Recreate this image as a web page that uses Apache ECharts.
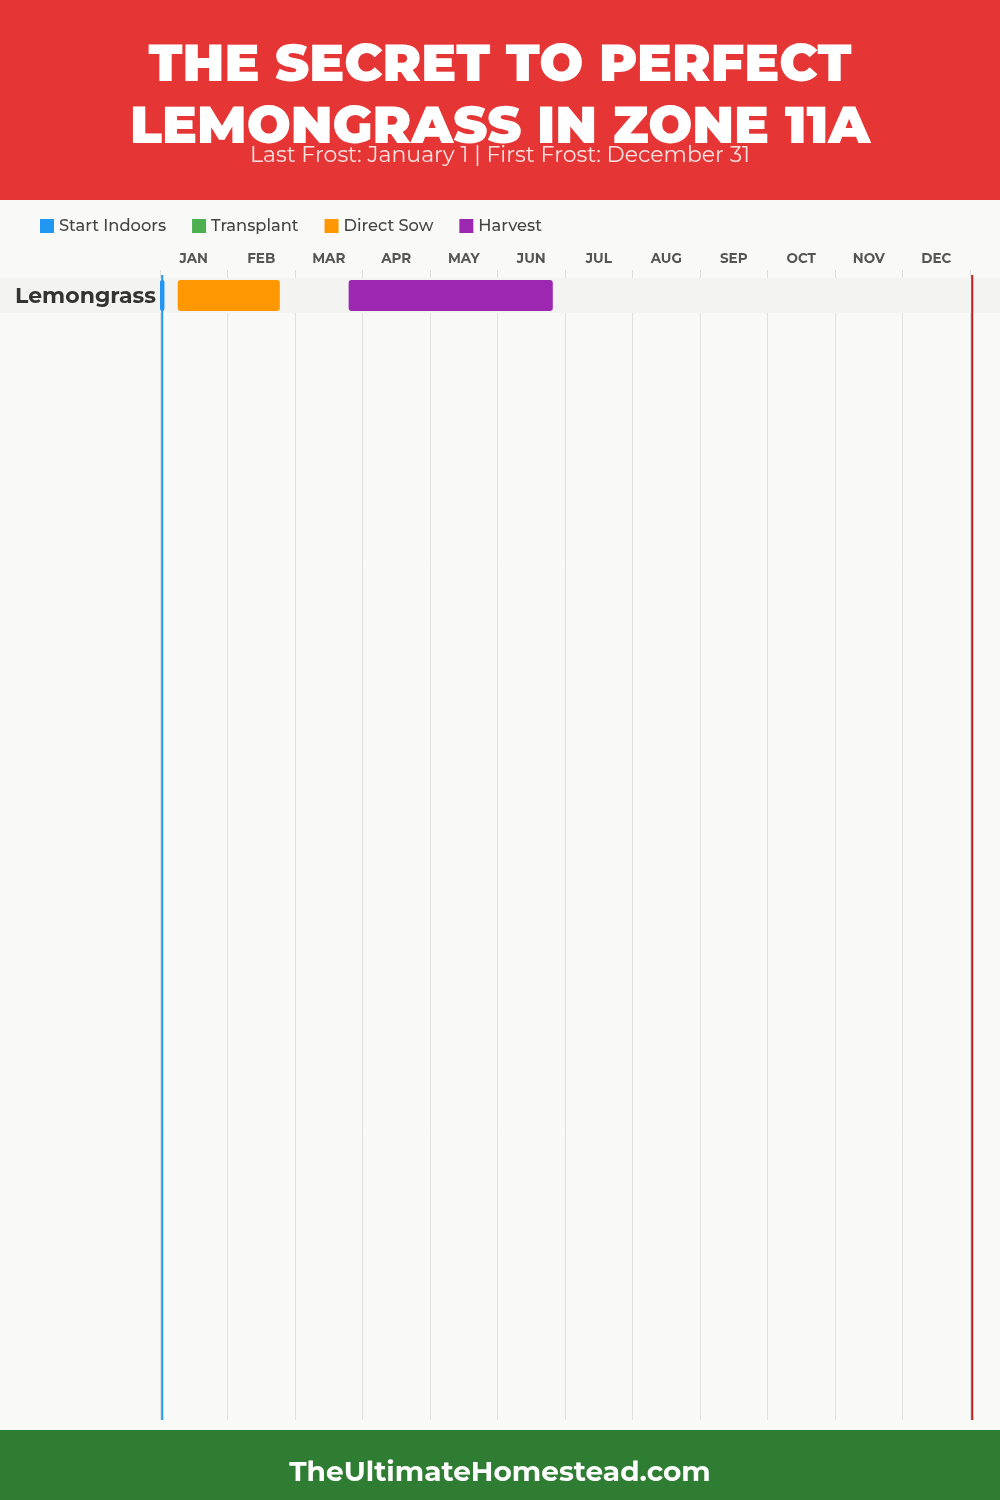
<!DOCTYPE html>
<html>
<head>
<meta charset="utf-8">
<script src="https://cdn.jsdelivr.net/npm/echarts@6/dist/echarts.min.js"></script>
<style>
html,body{margin:0;padding:0;background:#f9f9f7;}
#chart{width:1000px;height:1500px;}
</style>
</head>
<body>
<div id="chart"></div>
<script>
// ---- data ----
const months = ['JAN','FEB','MAR','APR','MAY','JUN','JUL','AUG','SEP','OCT','NOV','DEC'];
const crops = ['Lemongrass'];
// [cropIndex, startDay, endDay] (day of year)
const startIndoors = [[0, 0, 2]];
const transplant = [];
const directSow = [[0, 8, 54]];
const harvest = [[0, 85, 177]];
const lastFrostDay = 1;    // January 1
const firstFrostDay = 366; // December 31
const titleLines = ['THE SECRET TO PERFECT', 'LEMONGRASS IN ZONE 11A'];
const subtitle = 'Last Frost: January 1 | First Frost: December 31';
const footer = 'TheUltimateHomestead.com';

const colors = {
  'Start Indoors': '#2196f3',
  'Transplant': '#4caf50',
  'Direct Sow': '#ff9800',
  'Harvest': '#9c27b0'
};
const FONT = 'Montserrat, Inter, "Noto Sans", sans-serif';

const chart = echarts.init(document.getElementById('chart'), null, {renderer: 'canvas'});

function barRender(color) {
  return function (params, api) {
    const row = api.value(0);
    const s = api.coord([api.value(1), row + 0.06]);
    const e = api.coord([api.value(2), row + 0.94]);
    const w = e[0] - s[0];
    return {
      type: 'rect',
      shape: {x: s[0], y: s[1], width: w, height: e[1] - s[1], r: Math.min(3, w / 2)},
      style: {fill: color}
    };
  };
}

function barSeries(name, data) {
  return {
    name: name,
    type: 'custom',
    xAxisIndex: 1,
    yAxisIndex: 0,
    itemStyle: {color: colors[name]},
    renderItem: barRender(colors[name]),
    encode: {x: [1, 2], y: 0},
    data: data,
    z: 3
  };
}

const rowsVisible = 32.63;
const frostLines = [
  {day: lastFrostDay, color: '#2196f3', width: 2, extra: 3},
  {day: firstFrostDay, color: '#c21d1d', width: 2, extra: 3}
];

const option = {
  backgroundColor: '#f9f9f7',
  animation: false,
  textStyle: {fontFamily: FONT},
  graphic: [
    {type: 'rect', left: 0, top: 0, shape: {width: 1000, height: 200}, style: {fill: '#e53535'}, z: 0},
    {type: 'rect', left: 0, top: 1430, shape: {width: 1000, height: 70}, style: {fill: '#2e7d32'}, z: 0},
    {type: 'text', left: 'center', top: 40, z: 10,
      style: {text: titleLines[0], fill: '#ffffff', font: '900 52px ' + FONT}},
    {type: 'text', left: 'center', top: 102, z: 10,
      style: {text: titleLines[1], fill: '#ffffff', font: '900 52px ' + FONT}},
    {type: 'text', left: 'center', top: 145, z: 11,
      style: {text: subtitle, fill: 'rgba(255,255,255,0.85)', font: '400 22px ' + FONT}},
    {type: 'text', left: 'center', top: 1459, z: 10,
      style: {text: footer, fill: '#ffffff', font: '700 28px ' + FONT}}
  ],
  legend: {
    data: ['Start Indoors', 'Transplant', 'Direct Sow', 'Harvest'],
    left: 35,
    top: 213,
    icon: 'rect',
    itemWidth: 14,
    itemHeight: 14,
    itemGap: 26,
    textStyle: {fontSize: 16.3, fontWeight: 500, color: '#444', fontFamily: FONT}
  },
  grid: {left: 160, right: 30, top: 278, bottom: 80, containLabel: false},
  xAxis: [
    {
      type: 'category',
      position: 'top',
      data: months,
      boundaryGap: true,
      axisLine: {show: false},
      axisTick: {show: true, length: 8, lineStyle: {color: '#dddddd'}},
      axisLabel: {margin: 12, fontSize: 13.5, fontWeight: 'bold', color: '#555', fontFamily: FONT},
      splitLine: {show: true, lineStyle: {color: '#e0e0e0', width: 1}}
    },
    {
      type: 'value',
      position: 'top',
      min: 0,
      max: 365,
      show: false
    }
  ],
  yAxis: {
    type: 'value',
    min: 0,
    max: rowsVisible,
    inverse: true,
    show: false
  },
  series: [
    {
      name: 'rows',
      type: 'custom',
      xAxisIndex: 1,
      yAxisIndex: 0,
      silent: true,
      z: 1,
      data: crops.map((c, i) => [i]),
      encode: {y: 0},
      renderItem: function (params, api) {
        const i = api.value(0);
        const top = api.coord([0, i])[1];
        const bot = api.coord([0, i + 1])[1];
        return {
          type: 'group',
          children: [
            {type: 'rect', shape: {x: 0, y: top, width: api.getWidth(), height: bot - top},
              style: {fill: '#f3f3f2'}},
            {type: 'text', x: 15, y: (top + bot) / 2 + 1,
              style: {text: crops[i], fill: '#333', font: '700 22px ' + FONT,
                textAlign: 'left', textVerticalAlign: 'middle'}}
          ]
        };
      }
    },
    {
      name: 'frost',
      type: 'custom',
      xAxisIndex: 1,
      yAxisIndex: 0,
      silent: true,
      clip: false,
      z: 2,
      data: frostLines.map((f, i) => [f.day, i]),
      encode: {x: 0},
      renderItem: function (params, api) {
        const f = frostLines[api.value(1)];
        const top = api.coord([api.value(0), 0]);
        const bot = api.coord([api.value(0), rowsVisible]);
        return {
          type: 'line',
          shape: {x1: top[0], y1: top[1] - f.extra, x2: bot[0], y2: bot[1]},
          style: {stroke: f.color, lineWidth: f.width}
        };
      }
    },
    barSeries('Start Indoors', startIndoors),
    barSeries('Transplant', transplant),
    barSeries('Direct Sow', directSow),
    barSeries('Harvest', harvest)
  ]
};
chart.setOption(option);
</script>
</body>
</html>
